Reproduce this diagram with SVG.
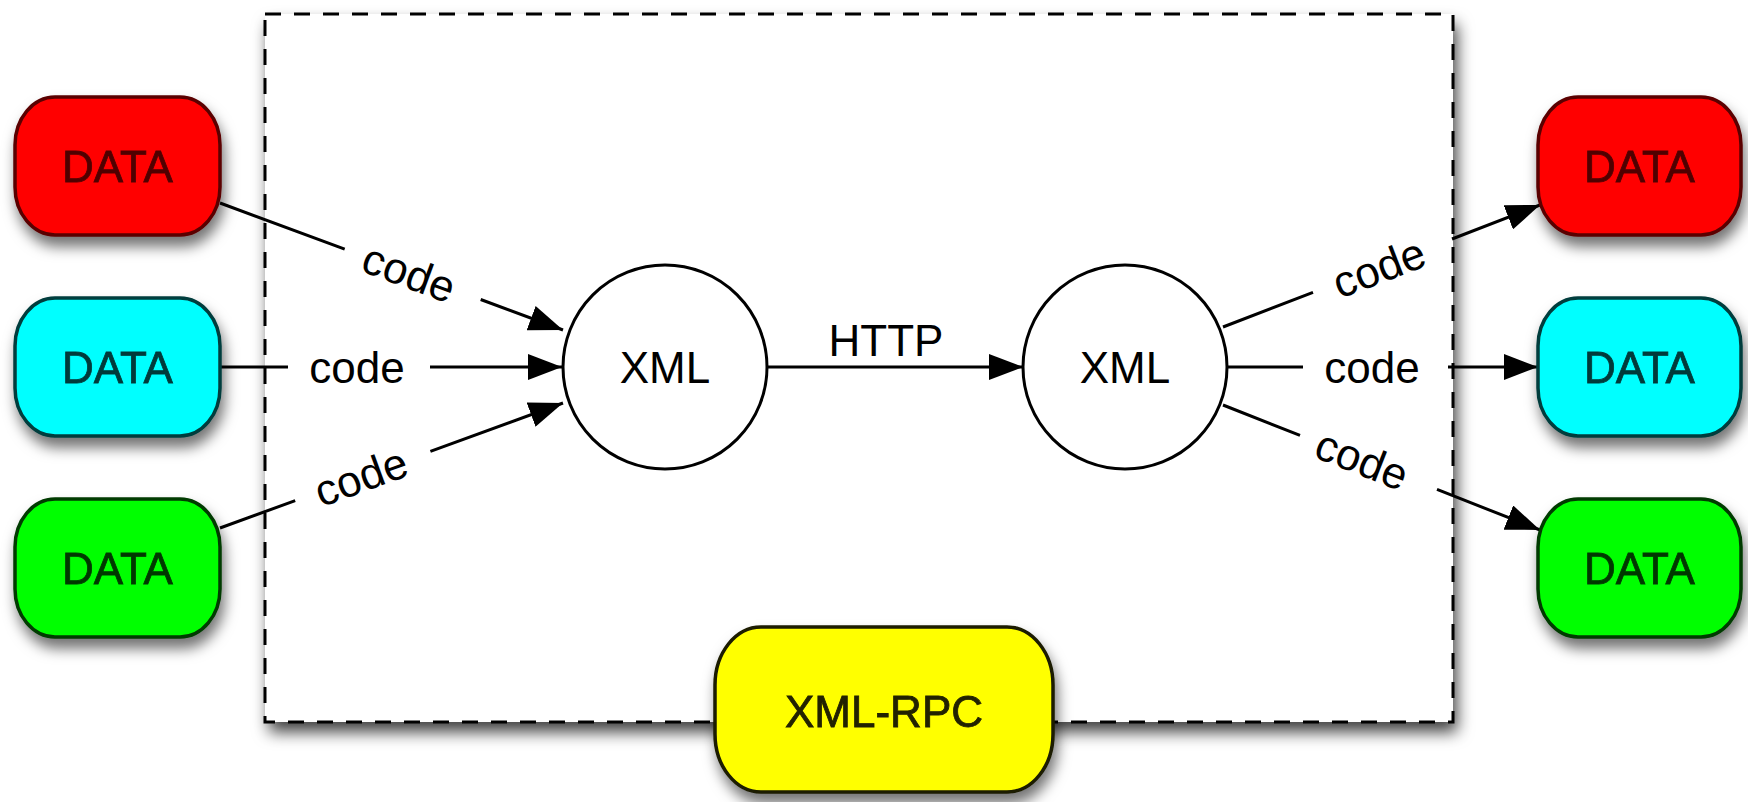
<svg xmlns="http://www.w3.org/2000/svg" width="1748" height="802" viewBox="0 0 1748 802">
  <defs>
    <filter id="shadow" x="-20%" y="-20%" width="140%" height="150%">
      <feDropShadow dx="3" dy="10" stdDeviation="7" flood-color="#000" flood-opacity="0.55"/>
    </filter>
    <filter id="boxshadow" x="-5%" y="-5%" width="110%" height="115%">
      <feDropShadow dx="4" dy="10" stdDeviation="8" flood-color="#000" flood-opacity="0.75"/>
    </filter>
    <marker id="arrow" markerUnits="userSpaceOnUse" markerWidth="34" markerHeight="26" refX="34" refY="13" orient="auto">
      <path d="M0,0 L34,13 L0,26 Z" fill="#000"/>
    </marker>
    <style>
      text { font-family: "Liberation Sans", Arial, sans-serif; font-size: 44px; text-anchor: middle; }
      .data { stroke-width: 3.5; }
      .nt { stroke-width: 0.8; }
      .red { fill: #ff0000; stroke: #5a0000; }
      .red-t { fill: #500000; stroke: #500000; }
      .cyan { fill: #00ffff; stroke: #003c3c; }
      .cyan-t { fill: #003a3a; stroke: #003a3a; }
      .green { fill: #00ff00; stroke: #003a00; }
      .green-t { fill: #003800; stroke: #003800; }
      .yellow { fill: #ffff00; stroke: #1a1a00; }
      .yellow-t { fill: #222200; stroke: #222200; }
      .circle { fill: #fff; stroke: #000; stroke-width: 3; }
      .conn { fill: none; stroke: #000; stroke-width: 3; }
      .lbl { fill: #000; }
    </style>
  </defs>

  <rect width="1748" height="802" fill="#fff"/>

  <g id="container">
    <rect x="265" y="14" width="1188" height="708" fill="#fff" filter="url(#boxshadow)"/>
    <rect x="265" y="14" width="1188" height="708" fill="none" stroke="#000" stroke-width="3" stroke-dasharray="16 13"/>
  </g>

  <g id="connectors">
    <path class="conn" d="M220,203 L344.7,249.2 M480.7,299.5 L563,330" marker-end="url(#arrow)"/>
    <path class="conn" d="M220,367 L288,367 M430,367 L562,367" marker-end="url(#arrow)"/>
    <path class="conn" d="M220,528 L295.2,500.6 M430.4,451.3 L563,403" marker-end="url(#arrow)"/>
    <path class="conn" d="M767,367 L1023,367" marker-end="url(#arrow)"/>
    <path class="conn" d="M1223,327 L1313,292.4 M1452,239 L1540,205" marker-end="url(#arrow)"/>
    <path class="conn" d="M1227,367 L1303,367 M1448,367 L1538,367" marker-end="url(#arrow)"/>
    <path class="conn" d="M1223,405 L1300,435.4 M1437,489.4 L1540,530" marker-end="url(#arrow)"/>
    <text class="lbl" transform="translate(409,273) rotate(20.3)" y="15">code</text>
    <text class="lbl" x="357" y="383">code</text>
    <text class="lbl" transform="translate(361,477) rotate(-20)" y="15">code</text>
    <text class="lbl" x="886" y="356">HTTP</text>
    <text class="lbl" transform="translate(1379,268) rotate(-21)" y="15">code</text>
    <text class="lbl" x="1372" y="383">code</text>
    <text class="lbl" transform="translate(1362,460) rotate(21.5)" y="15">code</text>
  </g>

  <g id="data-left-red" filter="url(#shadow)">
    <rect class="data red" x="15" y="97" width="205" height="138" rx="40" ry="48"/>
    <text class="nt red-t" x="117.5" y="182">DATA</text>
  </g>
  <g id="data-left-cyan" filter="url(#shadow)">
    <rect class="data cyan" x="15" y="298" width="205" height="138" rx="40" ry="48"/>
    <text class="nt cyan-t" x="117.5" y="383">DATA</text>
  </g>
  <g id="data-left-green" filter="url(#shadow)">
    <rect class="data green" x="15" y="499" width="205" height="138" rx="40" ry="48"/>
    <text class="nt green-t" x="117.5" y="584">DATA</text>
  </g>

  <g id="xml-left">
    <circle class="circle" cx="665" cy="367" r="102"/>
    <text class="lbl" x="665" y="383">XML</text>
  </g>
  <g id="xml-right">
    <circle class="circle" cx="1125" cy="367" r="102"/>
    <text class="lbl" x="1125" y="383">XML</text>
  </g>

  <g id="data-right-red" filter="url(#shadow)">
    <rect class="data red" x="1538" y="97" width="203" height="138" rx="40" ry="48"/>
    <text class="nt red-t" x="1639.5" y="182">DATA</text>
  </g>
  <g id="data-right-cyan" filter="url(#shadow)">
    <rect class="data cyan" x="1538" y="298" width="203" height="138" rx="40" ry="48"/>
    <text class="nt cyan-t" x="1639.5" y="383">DATA</text>
  </g>
  <g id="data-right-green" filter="url(#shadow)">
    <rect class="data green" x="1538" y="499" width="203" height="138" rx="40" ry="48"/>
    <text class="nt green-t" x="1639.5" y="584">DATA</text>
  </g>

  <g id="xml-rpc" filter="url(#shadow)">
    <rect class="data yellow" x="715" y="627" width="338" height="165" rx="46" ry="58"/>
    <text class="nt yellow-t" x="884" y="727">XML-RPC</text>
  </g>
</svg>
